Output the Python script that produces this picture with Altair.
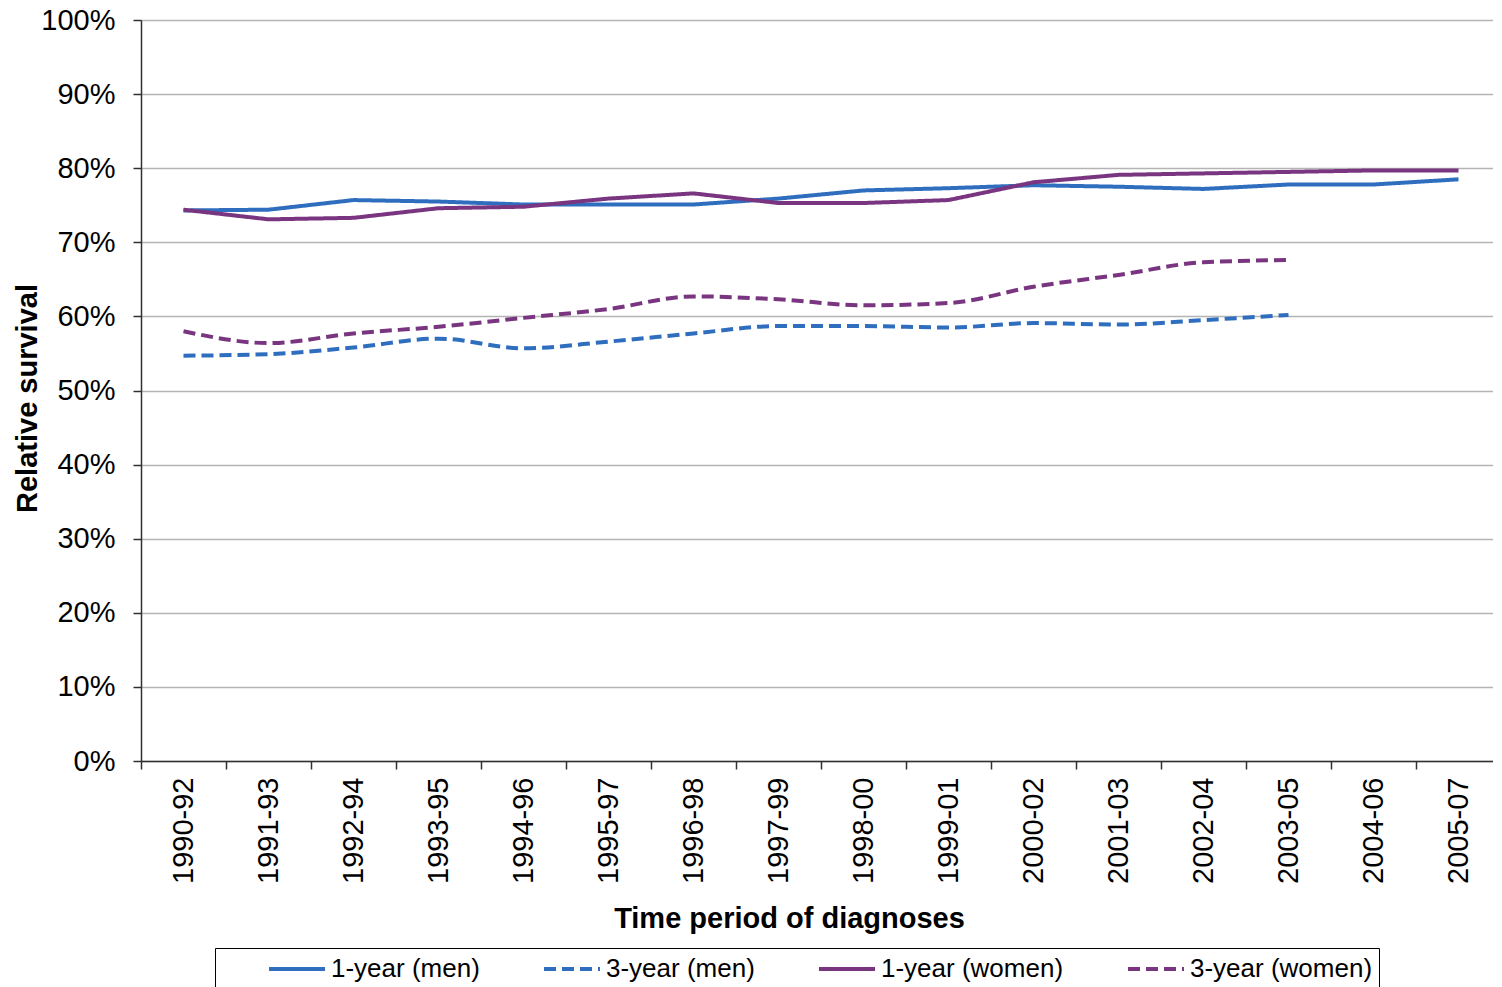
import altair as alt
import pandas as pd

periods = ["1990-92", "1991-93", "1992-94", "1993-95", "1994-96", "1995-97", "1996-98",
           "1997-99", "1998-00", "1999-01", "2000-02", "2001-03", "2002-04", "2003-05",
           "2004-06", "2005-07"]

one_year_men = [74.3, 74.4, 75.7, 75.5, 75.1, 75.1, 75.1, 75.9, 77.0, 77.3, 77.7, 77.5,
                77.2, 77.8, 77.8, 78.5]
one_year_women = [74.4, 73.1, 73.3, 74.6, 74.8, 75.9, 76.6, 75.3, 75.3, 75.7, 78.1, 79.1,
                  79.3, 79.5, 79.7, 79.7]
three_year_men = [54.7, 54.9, 55.8, 57.0, 55.7, 56.6, 57.7, 58.7, 58.7, 58.5, 59.1, 58.9,
                  59.5, 60.2]
three_year_women = [58.0, 56.4, 57.7, 58.6, 59.8, 61.0, 62.7, 62.3, 61.5, 61.8, 64.0, 65.6,
                    67.3, 67.6]

series_names = ["1-year (men)", "3-year (men)", "1-year (women)", "3-year (women)"]
series_colors = ["#2F6EBF", "#2F6EBF", "#7A3580", "#7A3580"]
series_dash = [[1, 0], [12, 6], [1, 0], [12, 6]]

rows = []
for name, vals in zip(series_names, [one_year_men, three_year_men, one_year_women, three_year_women]):
    for p, v in zip(periods, vals):
        rows.append({"period": p, "value": v / 100.0, "series": name})
df = pd.DataFrame(rows)

FONT = "Liberation Sans"
NB = "\u00a0"

x_enc = alt.X(
    "period:N",
    sort=periods,
    scale=alt.Scale(type="band", paddingInner=0, paddingOuter=0),
    axis=alt.Axis(
        title="Time period of diagnoses",
        labelAngle=-90,
        labelFontSize=29,
        labelFont=FONT,
        labelColor="black",
        labelPadding=8,
        tickBand="extent",
        tickSize=8,
        tickColor="#303030",
        tickWidth=1.5,
        domainColor="#303030",
        domainWidth=1.5,
        grid=False,
        titleFont=FONT,
        titleFontSize=29,
        titleFontWeight="bold",
        titleColor="black",
        titleX=648,
        titleY=166,
        titleAlign="center",
        titleBaseline="alphabetic",
    ),
)

y_enc = alt.Y(
    "value:Q",
    scale=alt.Scale(domain=[0, 1]),
    axis=alt.Axis(
        title="Relative survival",
        values=[i / 10 for i in range(11)],
        format=".0%",
        labelFontSize=29,
        labelFont=FONT,
        labelColor="black",
        labelPadding=18,
        tickSize=8,
        tickColor="#303030",
        tickWidth=1.5,
        domainColor="#303030",
        domainWidth=1.5,
        gridColor="#b4b4b4",
        gridWidth=1.3,
        titleFont=FONT,
        titleFontSize=29,
        titleFontWeight="bold",
        titleColor="black",
        titleX=-105,
        titleY=378,
        titleAlign="center",
        titleBaseline="alphabetic",
    ),
)

legend = alt.Legend(
    orient="none",
    legendX=74,
    legendY=928,
    direction="horizontal",
    title=NB,
    titleOrient="left",
    titleFontSize=26,
    titleFont=FONT,
    titlePadding=46,
    strokeColor="black",
    padding=6,
    symbolType="stroke",
    symbolSize=3136,
    symbolStrokeWidth=4,
    clipHeight=30,
    labelFontSize=26,
    labelFont=FONT,
    labelColor="black",
    labelOffset=4,
    labelLimit=400,
    columnPadding=62,
)

color_enc = alt.Color("series:N", scale=alt.Scale(domain=series_names, range=series_colors),
                      legend=legend, sort=series_names)
dash_enc = alt.StrokeDash("series:N", scale=alt.Scale(domain=series_names, range=series_dash),
                          legend=legend, sort=series_names)

solid = alt.Chart(df).transform_filter(
    alt.FieldOneOfPredicate(field="series", oneOf=["1-year (men)", "1-year (women)"])
).mark_line(strokeWidth=4).encode(x=x_enc, y=y_enc, color=color_enc, strokeDash=dash_enc)

dashed = alt.Chart(df).transform_filter(
    alt.FieldOneOfPredicate(field="series", oneOf=["3-year (men)", "3-year (women)"])
).mark_line(strokeWidth=4, interpolate="monotone").encode(x=x_enc, y=y_enc, color=color_enc, strokeDash=dash_enc)

chart = alt.layer(solid, dashed).properties(
    width=1360,
    height=741,
    autosize=alt.AutoSizeParams(type="none"),
    padding={"left": 133, "top": 12, "right": -8, "bottom": 226},
).configure_view(stroke=None).configure(background="white")

chart.save("out.html", embed_options={"renderer": "svg", "actions": False})
